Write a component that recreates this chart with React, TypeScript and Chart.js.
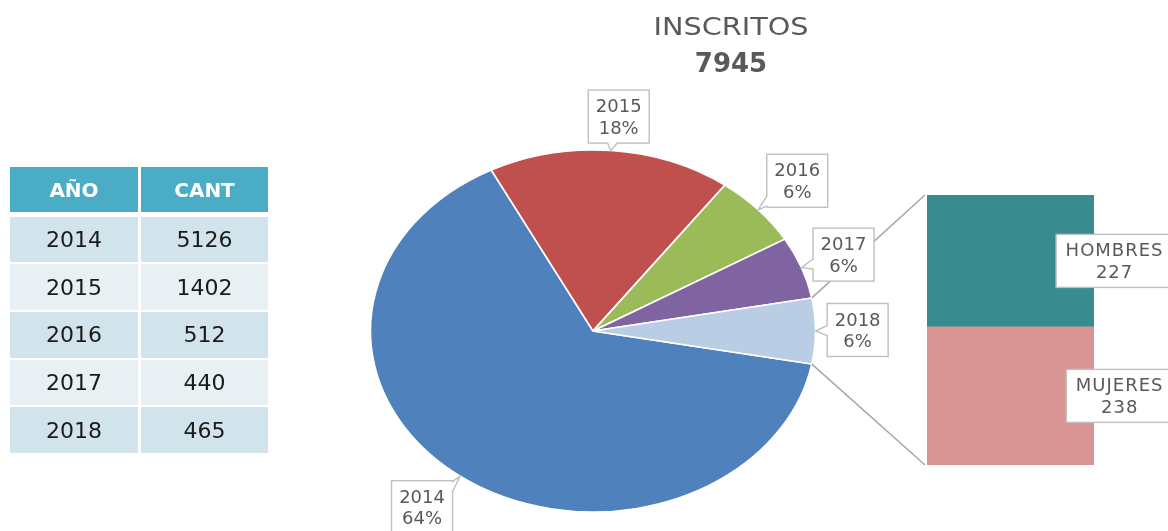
import React, { useEffect, useRef } from "react";
import { Chart, registerables } from "chart.js";

Chart.register(...registerables);

// ---------- data ----------
const TITLE = "INSCRITOS";
const TABLE_HEADERS = ["AÑO", "CANT"];
const YEARS = ["2014", "2015", "2016", "2017", "2018"];
const COUNTS = [5126, 1402, 512, 440, 465];
const PERCENT_LABELS = ["64%", "18%", "6%", "6%", "6%"];
const SPLIT_CATEGORIES = ["HOMBRES", "MUJERES"];
const SPLIT_VALUES = [227, 238];

// ---------- styles ----------
const W = 1168;
const H = 531;
const FONT = '"DejaVu Sans", sans-serif';
const TEXT_GRAY = "#595959";
const BOX_BORDER = "#BFBFBF";
const LINE_GRAY = "#A6A6A6";
const PIE_COLORS = ["#4F81BD", "#C0504D", "#9BBB59", "#8064A2", "#B9CDE5"];
const SPLIT_COLORS = ["#388B8E", "#D99594"];
const PIE_STRETCH = 1.23;
const PIE_RADIUS = 181;
const LABEL_OFFSETS = [
  [-38, 31],
  [8, -34],
  [39, -29],
  [42, -13],
  [42, -1],
];
const TITLE_X = 731;

const TOTAL = COUNTS.reduce((a, b) => a + b, 0);
const SPLIT_TOTAL = SPLIT_VALUES.reduce((a, b) => a + b, 0);

function drawCallout(
  ctx: CanvasRenderingContext2D,
  cx: number,
  cy: number,
  w: number,
  h: number,
  ax: number | null,
  ay: number | null
) {
  const l = cx - w / 2,
    t = cy - h / 2,
    r = cx + w / 2,
    b = cy + h / 2;
  ctx.save();
  ctx.fillStyle = "#ffffff";
  ctx.strokeStyle = BOX_BORDER;
  ctx.lineWidth = 1.4;
  ctx.fillRect(l, t, w, h);
  ctx.strokeRect(l, t, w, h);
  if (ax !== null && ay !== null) {
    const inside = ax > l && ax < r && ay > t && ay < b;
    if (!inside) {
      const dx = ax - cx,
        dy = ay - cy;
      const tx = dx !== 0 ? w / 2 / Math.abs(dx) : Infinity;
      const ty = dy !== 0 ? h / 2 / Math.abs(dy) : Infinity;
      const hw = 5;
      let b1: number[], b2: number[];
      let cover: number[];
      if (tx < ty) {
        const ex = dx > 0 ? r : l;
        const ey = Math.min(Math.max(cy + dy * tx, t + hw + 1), b - hw - 1);
        b1 = [ex, ey - hw];
        b2 = [ex, ey + hw];
        cover = [ex - 1.2, ey - hw + 0.8, 2.4, 2 * hw - 1.6];
      } else {
        const ey = dy > 0 ? b : t;
        const ex = Math.min(Math.max(cx + dx * ty, l + hw + 1), r - hw - 1);
        b1 = [ex - hw, ey];
        b2 = [ex + hw, ey];
        cover = [ex - hw + 0.8, ey - 1.2, 2 * hw - 1.6, 2.4];
      }
      ctx.beginPath();
      ctx.moveTo(b1[0], b1[1]);
      ctx.lineTo(ax, ay);
      ctx.lineTo(b2[0], b2[1]);
      ctx.closePath();
      ctx.fill();
      ctx.fillRect(cover[0], cover[1], cover[2], cover[3]);
      ctx.beginPath();
      ctx.moveTo(b1[0], b1[1]);
      ctx.lineTo(ax, ay);
      ctx.lineTo(b2[0], b2[1]);
      ctx.stroke();
    }
  }
  ctx.restore();
}

function drawTwoLines(
  ctx: CanvasRenderingContext2D,
  cx: number,
  cy: number,
  a: string,
  b: string,
  spacing: number
) {
  ctx.save();
  ctx.font = `18px ${FONT}`;
  ctx.fillStyle = TEXT_GRAY;
  ctx.textAlign = "center";
  ctx.textBaseline = "alphabetic";
  (ctx as any).letterSpacing = `${spacing}px`;
  ctx.fillText(a, cx + spacing / 2, cy - 4.5);
  ctx.fillText(b, cx + spacing / 2, cy + 17);
  ctx.restore();
}

export default function App() {
  const pieRef = useRef<HTMLCanvasElement | null>(null);
  const barRef = useRef<HTMLCanvasElement | null>(null);

  useEffect(() => {
    if (!pieRef.current || !barRef.current) return;

    const barLabelPlugin = {
      id: "barLabels",
      afterDatasetsDraw(chart: any) {
        const ctx: CanvasRenderingContext2D = chart.ctx;
        chart.data.datasets.forEach((ds: any, di: number) => {
          const el = chart.getDatasetMeta(di).data[0];
          if (!el) return;
          const cy = (el.y + el.base) / 2;
          const right = el.x + el.width / 2 + 78;
          ctx.save();
          ctx.font = `18px ${FONT}`;
          (ctx as any).letterSpacing = "1px";
          const tw = ctx.measureText(ds.label).width;
          ctx.restore();
          const w = tw + 18;
          const cx = right - w / 2;
          drawCallout(ctx, cx, cy, w, 53, null, null);
          drawTwoLines(ctx, cx, cy, ds.label, String(ds.data[0]), 1);
        });
      },
    };

    const splitOrder = SPLIT_CATEGORIES.map((_, i) => i).reverse();
    const barChart = new Chart(barRef.current, {
      type: "bar",
      data: {
        labels: [YEARS[YEARS.length - 1]],
        datasets: splitOrder.map((i) => ({
          label: SPLIT_CATEGORIES[i],
          data: [SPLIT_VALUES[i]],
          backgroundColor: SPLIT_COLORS[i],
          borderWidth: 0,
          barPercentage: 1,
          categoryPercentage: 1,
        })),
      },
      options: {
        responsive: false,
        animation: false,
        layout: { padding: { left: 927, right: 74, top: 195, bottom: 66 } },
        scales: {
          x: { display: false, stacked: true },
          y: { display: false, stacked: true, min: 0, max: SPLIT_TOTAL },
        },
        plugins: { legend: { display: false }, tooltip: { enabled: false } },
      },
      plugins: [barLabelPlugin],
    } as any);

    const piePlugin = {
      id: "pieExtras",
      beforeDatasetsDraw(chart: any) {
        const a = chart.getDatasetMeta(0).data[0];
        const ctx = chart.ctx;
        ctx.save();
        ctx.translate(a.x, a.y);
        ctx.scale(PIE_STRETCH, 1);
        ctx.translate(-a.x, -a.y);
      },
      afterDatasetsDraw(chart: any) {
        const ctx: CanvasRenderingContext2D = chart.ctx;
        ctx.restore();
        const arcs = chart.getDatasetMeta(0).data;
        const pt = (el: any, ang: number) => [
          el.x + el.outerRadius * Math.cos(ang) * PIE_STRETCH,
          el.y + el.outerRadius * Math.sin(ang),
        ];

        // connectors from the last slice to the split bar
        const last = arcs[arcs.length - 1];
        const p1 = pt(last, last.startAngle);
        const p2 = pt(last, last.endAngle);
        const bars = barChart.getDatasetMeta(0).data[0] as any;
        const ys = barChart.scales.y;
        const barLeft = bars.x - bars.width / 2 - 2;
        ctx.save();
        ctx.strokeStyle = LINE_GRAY;
        ctx.lineWidth = 1.5;
        ctx.beginPath();
        ctx.moveTo(p1[0], p1[1]);
        ctx.lineTo(barLeft, ys.getPixelForValue(SPLIT_TOTAL));
        ctx.moveTo(p2[0], p2[1]);
        ctx.lineTo(barLeft, ys.getPixelForValue(0));
        ctx.stroke();
        ctx.restore();

        // slice callouts
        arcs.forEach((el: any, i: number) => {
          const mid = (el.startAngle + el.endAngle) / 2;
          const [ex, ey] = pt(el, mid);
          const cx = ex + LABEL_OFFSETS[i][0];
          const cy = ey + LABEL_OFFSETS[i][1];
          drawCallout(ctx, cx, cy, 61, 53, ex, ey);
          drawTwoLines(ctx, cx, cy, YEARS[i], PERCENT_LABELS[i], 0);
        });

        // title (horizontally widened like the reference lettering)
        ctx.save();
        ctx.fillStyle = TEXT_GRAY;
        ctx.textAlign = "center";
        ctx.textBaseline = "alphabetic";
        ctx.translate(TITLE_X, 0);
        ctx.scale(1.15, 1);
        ctx.font = `25px ${FONT}`;
        ctx.fillText(TITLE, 0, 35);
        ctx.restore();
        ctx.save();
        ctx.fillStyle = TEXT_GRAY;
        ctx.textAlign = "center";
        ctx.textBaseline = "alphabetic";
        ctx.font = `bold 26px ${FONT}`;
        ctx.fillText(String(TOTAL), TITLE_X, 72);
        ctx.restore();
      },
    };

    const rotation = 90 + (COUNTS[COUNTS.length - 1] / TOTAL) * 180;
    const pieChart = new Chart(pieRef.current, {
      type: "pie",
      data: {
        labels: YEARS,
        datasets: [
          {
            data: COUNTS,
            backgroundColor: PIE_COLORS,
            borderColor: "#ffffff",
            borderWidth: 1.5,
            radius: PIE_RADIUS,
          },
        ],
      },
      options: {
        responsive: false,
        animation: false,
        rotation,
        layout: { padding: { left: 400, right: 382, top: 150, bottom: 19 } },
        plugins: { legend: { display: false }, tooltip: { enabled: false } },
      },
      plugins: [piePlugin],
    } as any);

    return () => {
      pieChart.destroy();
      barChart.destroy();
    };
  }, []);

  const cellBase: React.CSSProperties = {
    display: "flex",
    alignItems: "center",
    justifyContent: "center",
  };

  return (
    <div
      style={{
        position: "absolute",
        left: 0,
        top: 0,
        width: W,
        height: H,
        overflow: "hidden",
        background: "#ffffff",
      }}
    >
      <canvas
        ref={pieRef}
        width={W}
        height={H}
        style={{ position: "absolute", left: 0, top: 0, width: W, height: H }}
      />
      <canvas
        ref={barRef}
        width={W}
        height={H}
        style={{ position: "absolute", left: 0, top: 0, width: W, height: H }}
      />
      <div
        style={{
          position: "absolute",
          left: 10,
          top: 167,
          display: "grid",
          gridTemplateColumns: "128px 127px",
          columnGap: 3,
          rowGap: 2,
          fontFamily: FONT,
        }}
      >
        {TABLE_HEADERS.map((h) => (
          <div
            key={h}
            style={{
              ...cellBase,
              height: 45,
              marginBottom: 2.7,
              background: "#4BACC6",
              color: "#ffffff",
              fontWeight: "bold",
              fontSize: 20,
            }}
          >
            {h}
          </div>
        ))}
        {YEARS.map((y, i) =>
          [y, String(COUNTS[i])].map((v, j) => (
            <div
              key={`${i}-${j}`}
              style={{
                ...cellBase,
                height: 45.7,
                background: i % 2 === 0 ? "#D1E3EB" : "#E8F0F4",
                color: "#1a1a1a",
                fontSize: 22,
              }}
            >
              {v}
            </div>
          ))
        )}
      </div>
    </div>
  );
}
